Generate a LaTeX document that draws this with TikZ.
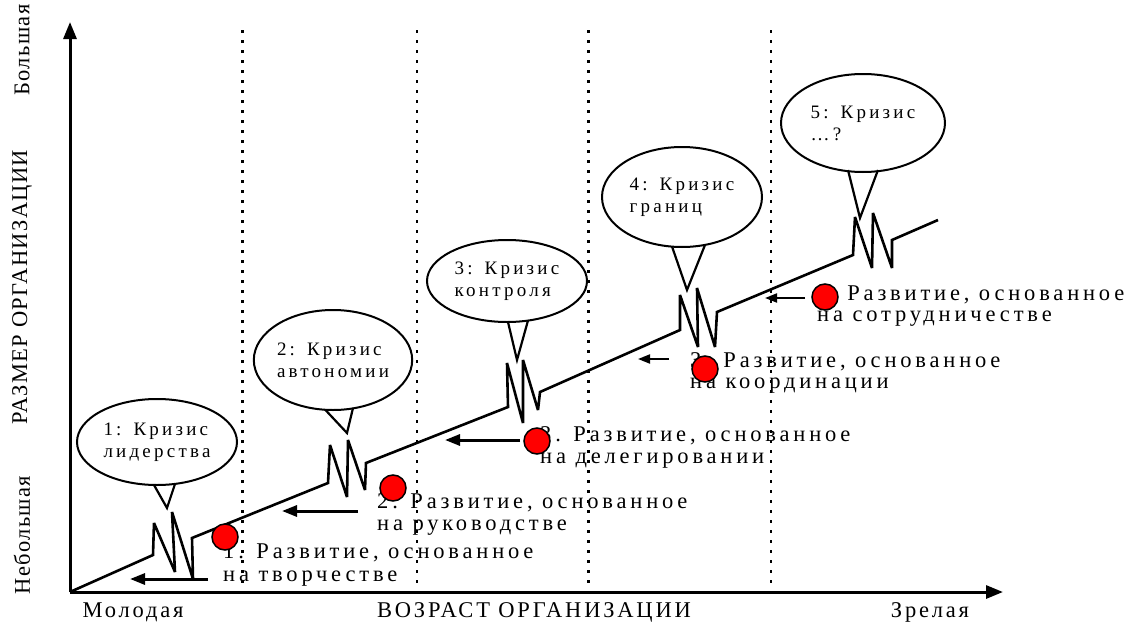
\documentclass[tikz,border=0pt]{standalone}
\usepackage{fontspec}
\usetikzlibrary{arrows.meta,shapes.geometric}
\newfontfamily\devf{Liberation Serif}[LetterSpace=17]
\newfontfamily\bubf{Liberation Serif}[LetterSpace=17]
\newfontfamily\axf{Liberation Serif}[LetterSpace=12.5]
\newfontfamily\vaxf{Liberation Serif}[LetterSpace=6]
\begin{document}
\begin{tikzpicture}[x=1pt,y=-1pt,
  bubble/.style={ellipse, draw, line width=2pt, inner sep=0pt, align=left,
    font=\bubf\fontsize{19}{22}\selectfont},
  reddot/.style={circle, draw, fill=red, line width=1.5pt, minimum size=26pt, inner sep=0pt},
  devtext/.style={anchor=base west, inner sep=0pt, font=\devf\fontsize{22.5}{23}\selectfont},
  axlabel/.style={inner sep=0pt, font=\axf\fontsize{22.5}{24}\selectfont},
  vaxlabel/.style={inner sep=0pt, rotate=90, font=\vaxf\fontsize{22.5}{24}\selectfont},
  backarrow/.style={line width=3pt, -{Triangle[length=15pt,width=11pt]}},
  thinarrow/.style={line width=2pt, -{Triangle[length=12pt,width=9pt]}},
  axisline/.style={line width=3pt, -{Triangle[length=17pt,width=13pt]}},
  stageline/.style={dash pattern=on 2.5pt off 7.5pt},
  growth/.style={line width=2.6pt, line join=miter, miter limit=4},
  pointer/.style={line width=2.2pt}
]
\useasboundingbox (0,0) rectangle (1133,632);

% stage separators
\foreach \xx/\ww in {242/3, 417/2, 588/3, 771/2}
  \draw[stageline, line width=\ww pt] (\xx,30) -- (\xx,588);

% axes
\coordinate (O) at (70,592);
\coordinate (ytop) at (70,22);
\coordinate (xend) at (1003,592);
\draw[axisline] (O) -- (ytop);
\draw[axisline] (O) -- (xend);

% growth line with crises
\draw[growth] (O) -- (153,555) -- (154,523) -- (175,572) -- (172,512) -- (193,579) -- (192,538)
  -- (328,483) -- (330,445) -- (347,497) -- (348,440) -- (365,490) -- (366,463)
  -- (508,407) -- (507,363) -- (523,423) -- (523,360) -- (538,410) -- (540,392)
  -- (680,330) -- (680,295) -- (698,347) -- (697,288) -- (715,347) -- (717,312)
  -- (853,255) -- (855,217) -- (872,268) -- (873,213) -- (892,268) -- (892,240)
  -- (938,220);

% bubbles
\node[bubble, minimum width=160pt, minimum height=86pt] (b1) at (157,442) {1:\hspace{12pt}Кризис\\лидерства};
\node[bubble, minimum width=148pt, minimum height=100pt] (b2) at (333,360) {2:\hspace{12pt}Кризис\\автономии};
\node[bubble, minimum width=160pt, minimum height=82pt] (b3) at (507,281) {3:\hspace{12pt}Кризис\\контроля};
\node[bubble, minimum width=160pt, minimum height=100pt] (b4) at (682,197) {4:\hspace{12pt}Кризис\\границ};
\node[bubble, minimum width=164pt, minimum height=98pt] (b5) at (863,123) {5:\hspace{12pt}Кризис\\…?};

% pointers
\coordinate (p1) at (167,508);
\coordinate (p2) at (347,433);
\coordinate (p3) at (517,360);
\coordinate (p4) at (687,290);
\coordinate (p5) at (860,218);
\draw[pointer] (154,485) -- (p1) -- (175,484);
\draw[pointer] (325,409.5) -- (p2) -- (353,408);
\draw[pointer] (508,322) -- (p3) -- (528,320.5);
\draw[pointer] (672,246.5) -- (p4) -- (705,245);
\draw[pointer] (848,170) -- (p5) -- (878,170);

% development texts
\node[devtext] (t1a) at (223,558) {1. Развитие, основанное};
\node[devtext] (t1b) at (223,581) {на творчестве};
\node[devtext] (t2a) at (377,508) {2. Развитие, основанное};
\node[devtext] (t2b) at (377,530) {на руководстве};
\node[devtext] (t3a) at (540,441) {3. Развитие, основанное};
\node[devtext] (t3b) at (540,463) {на делегировании};
\node[devtext] (t4a) at (690,367) {3. Развитие, основанное};
\node[devtext] (t4b) at (690,388) {на координации};
\node[devtext] (t5a) at (817,300) {\phantom{5.} Развитие, основанное};
\node[devtext] (t5b) at (817,321) {на сотрудничестве};

% back arrows
\coordinate (a1s) at (208,579); \coordinate (a1e) at (130,579);
\coordinate (a2s) at (358,511); \coordinate (a2e) at (282,511);
\coordinate (a3s) at (520,440); \coordinate (a3e) at (445,440);
\coordinate (a4s) at (669,359); \coordinate (a4e) at (638,359);
\coordinate (a5s) at (805,298); \coordinate (a5e) at (765,298);
\draw[backarrow] (a1s) -- (a1e);
\draw[backarrow] (a2s) -- (a2e);
\draw[backarrow] (a3s) -- (a3e);
\draw[thinarrow] (a4s) -- (a4e);
\draw[thinarrow] (a5s) -- (a5e);

% red dots
\node[reddot] (d1) at (225,537) {};
\node[reddot] (d2) at (393,488) {};
\node[reddot] (d3) at (537,441) {};
\node[reddot] (d4) at (705,369) {};
\node[reddot] (d5) at (825,297) {};

% axis labels
\node[axlabel] (young) at (133,612) {Молодая};
\node[axlabel] (age) at (534,612) {ВОЗРАСТ ОРГАНИЗАЦИИ};
\node[axlabel] (mature) at (930,612) {Зрелая};
\node[vaxlabel] (big) at (22,50) {Большая};
\node[vaxlabel] (size) at (22,287) {РАЗМЕР ОРГАНИЗАЦИИ};
\node[vaxlabel] (small) at (22,535) {Небольшая};
\end{tikzpicture}
\end{document}
